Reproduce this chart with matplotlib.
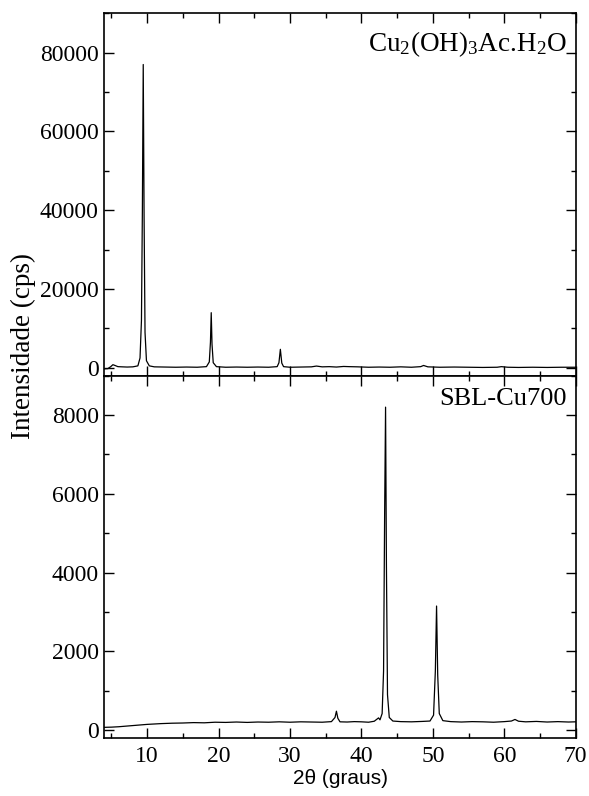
import matplotlib
matplotlib.use('Agg')
from matplotlib import pyplot as plt
from matplotlib.ticker import MultipleLocator

# Cu2(OH)3Ac.H2O pattern (2theta, cps)
ac_x = [4.0, 4.5, 4.9, 5.2, 5.5, 5.9, 6.5, 7.2, 8.0, 8.7, 9.0, 9.2, 9.33, 9.45, 9.57, 9.7, 9.9, 10.3,
        11.0, 12.5, 14.0, 15.5, 17.0, 18.3, 18.7, 18.86, 18.97, 19.08, 19.25, 19.7, 21.0, 22.5,
        24.0, 25.5, 27.0, 28.2, 28.45, 28.65, 28.85, 29.1, 30.0, 31.5, 33.0, 33.7, 34.5, 35.5,
        36.5, 37.5, 38.3, 39.5, 41.0, 42.5, 44.0, 45.5, 47.0, 48.3, 48.7, 49.3, 51.0, 53.0,
        55.0, 57.0, 59.0, 59.6, 60.5, 62.0, 64.0, 66.0, 68.0, 70.0]
ac_y = [-250, -200, 300, 800, 600, 300, 250, 200, 250, 500, 2500, 12000, 40000, 77000, 38000, 9000, 1800, 500,
        250, 200, 150, 200, 150, 300, 1500, 6500, 14000, 6000, 1300, 300, 150, 200,
        150, 200, 150, 300, 1300, 4700, 1200, 300, 150, 200, 250, 450, 250, 300,
        200, 350, 300, 250, 150, 200, 150, 250, 150, 300, 600, 250, 150, 200,
        150, 100, 150, 300, 150, 100, 150, 100, 150, 150]

# SBL-Cu700 pattern
cu_x = [4.0, 5.0, 6.0, 7.0, 8.0, 9.0, 10.0, 11.0, 12.0, 13.5, 15.0, 16.5, 18.0, 19.5, 21.0, 22.5,
        24.0, 25.5, 27.0, 28.5, 30.0, 31.5, 33.0, 34.5, 35.8, 36.3, 36.5, 36.7, 37.0, 38.0, 39.0,
        40.0, 41.0, 41.8, 42.4, 42.6, 42.9, 43.1, 43.25, 43.38, 43.5, 43.65, 43.9, 44.4, 45.5,
        47.0, 48.5, 49.6, 50.1, 50.35, 50.52, 50.68, 50.9, 51.4, 52.5, 54.0, 55.5, 57.0, 58.5,
        60.0, 61.0, 61.5, 62.0, 63.0, 64.5, 66.0, 67.5, 69.0, 70.0]
cu_y = [70, 75, 85, 100, 115, 130, 145, 155, 165, 175, 180, 190, 185, 200, 195, 205,
        195, 205, 200, 210, 200, 210, 205, 200, 215, 320, 480, 300, 210, 205, 215,
        210, 200, 225, 310, 260, 420, 1500, 5500, 8200, 4200, 900, 320, 230, 215,
        210, 220, 230, 380, 1500, 3150, 1400, 420, 240, 215, 205, 215, 210, 200,
        215, 230, 270, 225, 210, 220, 205, 215, 205, 210]

plt.rcParams['font.family'] = ['Liberation Serif', 'DejaVu Serif']
plt.rcParams['mathtext.fontset'] = 'custom'
plt.rcParams['mathtext.rm'] = 'Liberation Serif'
plt.rcParams['mathtext.it'] = 'Liberation Serif:italic'

fig = plt.figure(figsize=(5.89, 7.96), dpi=100)
ax1 = fig.add_axes([0.1771, 0.5280, 0.8003, 0.4553])
ax2 = fig.add_axes([0.1771, 0.0729, 0.8003, 0.4552])

ax1.plot(ac_x, ac_y, color='black', lw=0.9)
ax2.plot(cu_x, cu_y, color='black', lw=0.9)

for ax in (ax1, ax2):
    ax.set_xlim(4, 70)
    ax.xaxis.set_major_locator(MultipleLocator(10))
    ax.xaxis.set_minor_locator(MultipleLocator(5))
    ax.tick_params(which='both', direction='in', top=True, right=True, labelsize=17, pad=4)
    ax.tick_params(which='major', length=7, width=1.0)
    ax.tick_params(which='minor', length=3.5, width=1.0)
    for s in ax.spines.values():
        s.set_linewidth(1.2)

ax1.set_ylim(-2000, 90000)
ax1.yaxis.set_major_locator(MultipleLocator(20000))
ax1.yaxis.set_minor_locator(MultipleLocator(10000))
ax1.tick_params(labelbottom=False)

ax2.set_ylim(-200, 9000)
ax2.yaxis.set_major_locator(MultipleLocator(2000))
ax2.yaxis.set_minor_locator(MultipleLocator(1000))
ax2.tick_params(axis='x', pad=6)

ax1.text(0.982, 0.955, r'$\mathregular{Cu_2(OH)_3Ac.\!H_2O}$', transform=ax1.transAxes,
         ha='right', va='top', fontsize=19.5)
ax2.text(0.982, 0.965, 'SBL-Cu700', transform=ax2.transAxes,
         ha='right', va='top', fontsize=19)

ax2.set_xlabel('2θ (graus)', family='Liberation Sans', fontsize=15, labelpad=1)
fig.text(0.04, 0.565, 'Intensidade (cps)', rotation=90, va='center', ha='center', fontsize=19.5)

plt.savefig('out.png', dpi=100)
